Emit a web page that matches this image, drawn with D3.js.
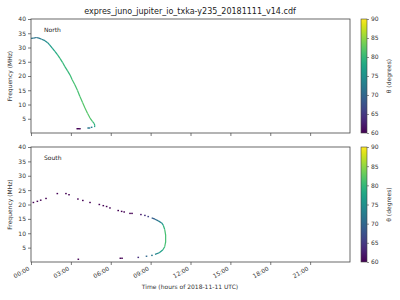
<!DOCTYPE html>
<html><head><meta charset="utf-8">
<script src="https://cdn.jsdelivr.net/npm/d3@7"></script>
<style>body{margin:0;background:#fff}svg{display:block;font-family:"DejaVu Sans",sans-serif}</style>
</head><body><svg id="c" width="400" height="300"></svg>
<script>
const title = "expres_juno_jupiter_io_txka-y235_20181111_v14.cdf";
const xTickHours = [0,3,6,9,12,15,18,21];
const yTicks = [5,10,15,20,25,30,35,40];
const cbTicks = [60,65,70,75,80,85,90];
// North continuous curve: time (h), frequency (MHz), theta (deg)
const northT = [0,0.2,0.4,0.6,0.8,1.05,1.25,1.4,1.6,1.8,2.0,2.18,2.37,2.55,2.75,2.93,3.1,3.3,3.5,3.68,3.87,4.06,4.25,4.44,4.62,4.76,4.8,4.78];
const northF = [33.2,33.3,33.5,33.3,32.9,32.4,31.7,30.9,29.8,28.6,27.4,26.2,24.8,23.3,21.8,20.4,18.7,16.9,14.9,12.8,10.8,8.75,6.9,5.25,4.1,3.3,2.6,2.1];
const northTheta = [72,72,71,72,73,74,75,76,77,78,79,80,80,80,80,80,81,81,81,81,82,82,82,82,81,80,78,77];
// North isolated points
const northDotT = [3.48,3.58,3.68,4.3,4.4,4.56];
const northDotF = [1.5,1.5,1.5,1.75,1.75,2.0];
const northDotTheta = [60,60,60,72,72,73];
// South sparse points
const southDotT = [0.18,0.48,0.73,1.13,1.98,2.63,2.86,3.53,3.9,4.44,5.14,5.44,5.69,5.94,6.56,6.82,7.01,7.45,7.6,8.27,8.57,8.82,3.56,6.72,6.85,8.07,8.69,9.1];
const southDotF = [20.7,21.1,21.5,22.1,23.8,23.8,23.4,21.9,21.4,20.7,20.0,19.6,19.3,18.8,17.9,17.6,17.4,16.9,16.9,16.5,16.2,15.8,0.95,1.3,1.3,1.6,2.0,2.3];
const southDotTheta = [60,60,60,60,60,60,60,60,60,60,60,60,60,60,60,60,60,60,60,62,64,66,60,60,60,64,70,72];
// South continuous arc
const southArcT = [9.08,9.33,9.58,9.83,9.95,10.06,10.13,10.13,10.06,9.91,9.65,9.33];
const southArcF = [15.35,14.9,14.3,13.6,12.8,11.3,9.35,7.0,5.3,4.16,3.2,2.67];
const southArcTheta = [68,70,72,74,78,81,81,81,81,79,75,73];

const svg = d3.select("#c");
const color = d3.scaleSequential(d3.interpolateViridis).domain([60,90]);
const x = d3.scaleLinear().domain([0,24]).range([31,350]);
const fmt = h => String(h).padStart(2,"0")+":00";

const defs = svg.append("defs");
const grad = defs.append("linearGradient").attr("id","vg").attr("x1",0).attr("y1",1).attr("x2",0).attr("y2",0);
d3.range(0,1.0001,0.05).forEach(s=>grad.append("stop").attr("offset",s).attr("stop-color",d3.interpolateViridis(s)));

svg.append("text").attr("x",190).attr("y",14).attr("text-anchor","middle").attr("font-size",8).attr("fill","#222").text(title);

function panel(top, bottom, label, lineT, lineF, lineTh, dotT, dotF, dotTh, showX){
  const y = d3.scaleLinear().domain([0,40]).range([bottom, top]);
  const g = svg.append("g");
  for(let i=0;i<lineT.length-1;i++){
    g.append("line").attr("x1",x(lineT[i])).attr("y1",y(lineF[i])).attr("x2",x(lineT[i+1])).attr("y2",y(lineF[i+1]))
     .attr("stroke",color((lineTh[i]+lineTh[i+1])/2)).attr("stroke-width",1.2);
  }
  dotT.forEach((t,i)=>{
    g.append("rect").attr("x",x(t)-0.8).attr("y",y(dotF[i])-0.7).attr("width",1.6).attr("height",1.4).attr("fill",color(dotTh[i]));
  });
  g.append("rect").attr("x",31).attr("y",top).attr("width",319).attr("height",bottom-top).attr("fill","none").attr("stroke","#444").attr("stroke-width",0.8);
  const ya = g.append("g").attr("transform","translate(31,0)").call(d3.axisLeft(y).tickValues(yTicks).tickSize(3).tickPadding(2));
  ya.select(".domain").remove();
  ya.selectAll("line").attr("stroke","#444").attr("stroke-width",0.7);
  ya.selectAll("text").attr("font-size",6).attr("fill","#333").attr("font-family","DejaVu Sans");
  const xa = g.append("g").attr("transform",`translate(0,${bottom})`).call(d3.axisBottom(x).tickValues(xTickHours).tickSize(3).tickFormat(showX?fmt:""));
  xa.select(".domain").remove();
  xa.selectAll("line").attr("stroke","#444").attr("stroke-width",0.7);
  if(showX){
    xa.selectAll("text").attr("font-size",6).attr("fill","#333").attr("font-family","DejaVu Sans")
      .attr("text-anchor","end").attr("x",0).attr("y",0).attr("dy","0.35em").attr("transform","translate(-2.5,6) rotate(-30)");
  }
  g.append("text").attr("x",44).attr("y",top+13).attr("font-size",6).attr("fill","#222").text(label);
  g.append("text").attr("transform",`translate(12,${(top+bottom)/2}) rotate(-90)`).attr("text-anchor","middle").attr("font-size",6).attr("fill","#333").text("Frequency (MHz)");
  const cy = d3.scaleLinear().domain([60,90]).range([bottom, top]);
  g.append("rect").attr("x",361).attr("y",top).attr("width",6).attr("height",bottom-top).attr("fill","url(#vg)").attr("stroke","#444").attr("stroke-width",0.6);
  const ca = g.append("g").attr("transform","translate(367,0)").call(d3.axisRight(cy).tickValues(cbTicks).tickSize(2).tickPadding(2));
  ca.select(".domain").remove();
  ca.selectAll("line").attr("stroke","#444").attr("stroke-width",0.6);
  ca.selectAll("text").attr("font-size",6).attr("fill","#333").attr("font-family","DejaVu Sans");
  g.append("text").attr("transform",`translate(391,${(top+bottom)/2}) rotate(-90)`).attr("text-anchor","middle").attr("font-size",6).attr("fill","#333").text("θ (degrees)");
}

panel(19,133,"North",northT,northF,northTheta,northDotT,northDotF,northDotTheta,false);
panel(147,262,"South",southArcT,southArcF,southArcTheta,southDotT,southDotF,southDotTheta,true);
svg.append("text").attr("x",190).attr("y",289).attr("text-anchor","middle").attr("font-size",6).attr("fill","#333").text("Time (hours of 2018-11-11 UTC)");
</script></body></html>
